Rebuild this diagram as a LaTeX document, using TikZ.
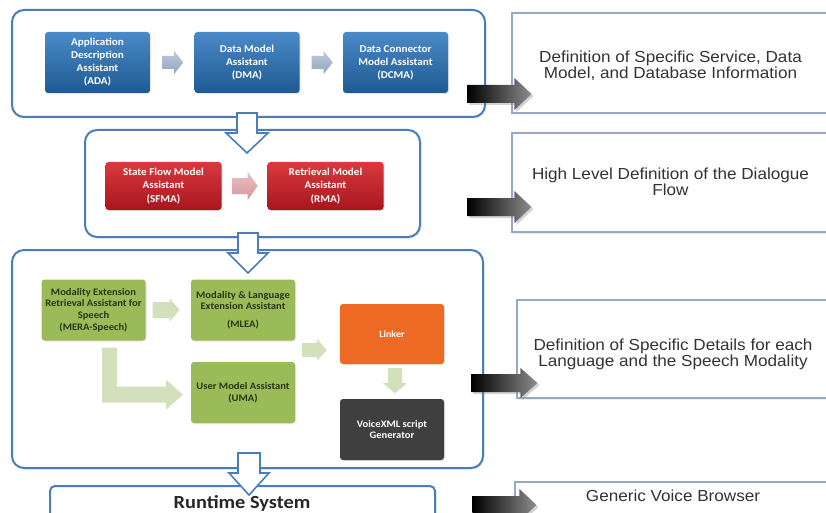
\documentclass[tikz,border=0pt]{standalone}
\usepackage{fontspec}
\setmainfont[FakeStretch=1.06]{Carlito}
\newfontfamily\arialf[FakeStretch=1.07]{Liberation Sans}
\newfontfamily\rtfont[FakeStretch=1.1]{Carlito}
\usetikzlibrary{calc,shadows}
\definecolor{grpblue}{HTML}{4A7EBB}
\definecolor{rbord}{HTML}{95A9C6}
\definecolor{bxtop}{HTML}{4A8AC8}
\definecolor{bxbot}{HTML}{1F5A92}
\definecolor{rdtop}{HTML}{D9393F}
\definecolor{rdbot}{HTML}{A8161D}
\definecolor{grn}{HTML}{9BBB59}
\definecolor{grntxt}{HTML}{2A3514}
\definecolor{grnarr}{HTML}{D3E0BC}
\definecolor{orng}{HTML}{EC6A24}
\definecolor{dkgr}{HTML}{3F3F3F}
\definecolor{barrtop}{HTML}{BCCADB}
\definecolor{barrbot}{HTML}{8FA5BD}
\definecolor{rarrtop}{HTML}{EBBEC2}
\definecolor{rarrbot}{HTML}{D497A0}
\definecolor{rtxt}{HTML}{333333}
% #1 style, #2 tail point, #3 length, #4 shaft half width, #5 head half width, #6 head length, #7 angle
\newcommand\blockarr[7]{%
  \begin{scope}[shift={#2}, rotate=#7]
    \path[#1] (0,-#4) -- (#3-#6,-#4) -- (#3-#6,-#5) -- (#3,0) -- (#3-#6,#5)
      -- (#3-#6,#4) -- (0,#4) -- cycle;
  \end{scope}}
\begin{document}
\begin{tikzpicture}[x=1pt,y=-1pt,
  grp/.style={draw=grpblue, line width=2pt, rounded corners=12pt, fill=white,
    drop shadow={opacity=0.18, shadow xshift=1.5pt, shadow yshift=-1.5pt}},
  rbox/.style={draw=rbord, line width=1.1pt, fill=white,
    drop shadow={opacity=0.15, shadow xshift=1pt, shadow yshift=-1.5pt}},
  rtext/.style={align=center, text=rtxt, font=\arialf\fontsize{16}{16}\selectfont},
  inbox/.style={rounded corners=3pt, align=center, inner sep=1pt,
    drop shadow={opacity=0.2, shadow xshift=1pt, shadow yshift=-1pt}},
  bluebx/.style={inbox, top color=bxtop, bottom color=bxbot, text=white,
    minimum width=105, minimum height=61, font=\bfseries\fontsize{10.5}{13}\selectfont},
  redbx/.style={inbox, top color=rdtop, bottom color=rdbot, text=white,
    minimum width=116, minimum height=48, font=\bfseries\fontsize{10.5}{13.3}\selectfont},
  grnbx/.style={inbox, fill=grn, text=grntxt, minimum width=104, minimum height=61,
    font=\bfseries\fontsize{10}{11.7}\selectfont},
  linkbx/.style={inbox, fill=orng, text=white, minimum width=104, minimum height=60,
    font=\bfseries\fontsize{9.5}{11}\selectfont},
  darkbx/.style={inbox, fill=dkgr, text=white, minimum width=104, minimum height=61,
    font=\bfseries\fontsize{10}{11}\selectfont},
  hollow/.style={draw=grpblue, line width=1.6pt, fill=white, line join=miter},
  blackarr/.style={left color=black, right color=black!45,
    drop shadow={opacity=0.35, shadow xshift=2pt, shadow yshift=-2pt}},
  bluearr/.style={top color=barrtop, bottom color=barrbot},
  redarr/.style={top color=rarrtop, bottom color=rarrbot},
  grnarrow/.style={fill=grnarr},
]
\useasboundingbox (0,0) rectangle (826,513);
\clip (0,0) rectangle (826,513);

% right-hand description boxes
\node[rbox, minimum width=317, minimum height=100] (r1) at (670.5,63) {};
\node[rtext] (t1) at ($(r1.center)+(0,3)$) {Definition of Specific Service, Data\\Model, and Database Information};
\node[rbox, minimum width=317, minimum height=99] (r2) at (670.5,182.5) {};
\node[rtext] (t2) at ($(r2.center)+(0,-1)$) {High Level Definition of the Dialogue\\Flow};
\node[rbox, minimum width=312, minimum height=98] (r3) at (673,349) {};
\node[rtext] (t3) at ($(r3.center)+(0,5)$) {Definition of Specific Details for each\\Language and the Speech Modality};
\node[rbox, minimum width=315, minimum height=60] (r4) at (672.5,512) {};
\node[rtext] (t4) at (673,496) {Generic Voice Browser};

% groups
\node[grp, minimum width=473, minimum height=107] (g1) at (248.5,63.5) {};
\node[grp, minimum width=335, minimum height=107] (g2) at (252.5,183.5) {};
\node[grp, minimum width=471, minimum height=218] (g3) at (247.5,359) {};
\node[grp, rounded corners=5pt, minimum width=385, minimum height=60] (rt) at (242.5,516) {};
\node[font=\rtfont\bfseries\fontsize{18.5}{20}\selectfont, text=black!85] (rtt) at (242,503) {Runtime System};

% group 1
\node[bluebx] (ada) at (97.5,62.5) {Application\\Description\\Assistant\\(ADA)};
\node[bluebx] (dma) at (247,62.5) {Data Model\\Assistant\\(DMA)};
\node[bluebx] (dcma) at (395.5,62.5) {Data Connector\\Model Assistant\\(DCMA)};
\blockarr{bluearr}{($(ada.east)+(12,0)$)}{21}{6.5}{11.5}{9}{0}
\blockarr{bluearr}{($(dma.east)+(12,0)$)}{21}{6.5}{11.5}{9}{0}

% group 2
\node[redbx] (sfma) at (163.5,186) {State Flow Model\\Assistant\\(SFMA)};
\node[redbx] (rma) at (325.5,186) {Retrieval Model\\Assistant\\(RMA)};
\blockarr{redarr}{($(sfma.east)+(11,0)$)}{25}{8}{14}{10}{0}

% group 3
\node[grnbx] (mera) at (93.5,310) {Modality Extension\\Retrieval Assistant for\\Speech\\(MERA-Speech)};
\node[grnbx] (mlea) at (243,310) {Modality \& Language\\Extension Assistant\\[6pt](MLEA)};
\node[grnbx] (uma) at (243,392.5) {User Model Assistant\\(UMA)};
\node[linkbx] (link) at (392,334) {Linker};
\node[darkbx] (vxml) at (392,429.5) {VoiceXML script\\Generator};
\blockarr{grnarrow}{($(mera.east)+(7,0)$)}{27}{8}{11.5}{10}{0}
\blockarr{grnarrow}{($(link.west)+(-38,16)$)}{25}{7}{11}{10}{0}
\blockarr{grnarrow}{($(link.south)+(3,4)$)}{25}{7}{12}{10}{-90}
\fill[grnarrow] ($(mera.south)+(8.5,7)$) -- ++(15,0) -- ++(0,39) -- ++(49,0) -- ++(0,-7)
  -- ++(17,15) -- ++(-17,15) -- ++(0,-7) -- ++(-64,0) -- cycle;

% hollow connectors between the stages
\blockarr{hollow}{($(g1.south)+(-1.5,-5)$)}{40}{10}{21}{20}{-90}
\blockarr{hollow}{($(g2.south)+(-4.5,-5)$)}{40}{10}{20}{20}{-90}
\blockarr{hollow}{($(g3.south)+(1.5,-16)$)}{42}{11}{20}{22}{-90}

% black arrows to descriptions
\blockarr{blackarr}{($(r1.west)+(-44,31)$)}{64}{9}{16}{17}{0}
\blockarr{blackarr}{($(r2.west)+(-44,24.5)$)}{64}{9}{16}{17}{0}
\blockarr{blackarr}{($(r3.west)+(-45,34)$)}{66}{9}{15}{17}{0}
\blockarr{blackarr}{($(r4.west)+(-42,-7)$)}{64}{9}{16}{17}{0}
\end{tikzpicture}
\end{document}
